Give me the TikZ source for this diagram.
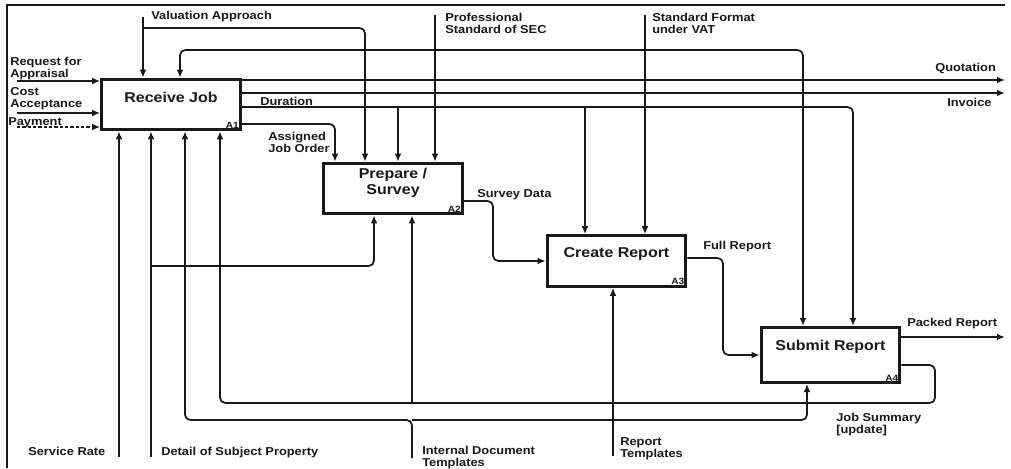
\documentclass[tikz,border=0pt]{standalone}
\usepackage{fontspec}
\setmainfont[FakeStretch=1.12]{Liberation Sans}
\usepackage{tikz}
\usetikzlibrary{arrows.meta}
\usepackage{xcolor}
\definecolor{cInk}{RGB}{25,25,25}
\definecolor{cPaper}{RGB}{255,255,255}
\tikzset{
  procbox/.style={rectangle, draw=cInk, fill=cPaper, line width=2.2pt,
                  minimum width=104pt, minimum height=38pt},
  proctitle/.style={font=\fontsize{10.7}{12}\selectfont\bfseries,
                    align=center, inner sep=0pt, text=cInk},
  procid/.style={font=\fontsize{6.8}{7}\selectfont\bfseries,
                 anchor=south east, inner sep=2pt, text=cInk},
  lbl/.style={font=\fontsize{8.6}{9}\selectfont\bfseries, align=left,
              anchor=north west, inner sep=0pt, text=cInk},
  arrow/.style={-{Latex[length=6pt,width=5pt]}, line width=1.3pt,
                draw=cInk, rounded corners=4pt},
  dasharrow/.style={arrow, dash pattern=on 2.5pt off 1.5pt},
  frameline/.style={draw=cInk, line width=1.3pt}
}

\begin{document}
\begin{tikzpicture}[x=0.75pt, y=-0.75pt]
  \useasboundingbox (0,0) rectangle (1011,468);
  \draw[frameline] (1005,5) -- (7,5) -- (7,468);

  % activities A1..A4
  \node[procbox] (a1) at (171,104.5) {};
  \node[procbox] (a2) at (393,188.5) {};
  \node[procbox] (a3) at (616.5,261) {};
  \node[procbox, minimum height=41.3pt] (a4) at (830.5,355) {};
  \node[proctitle] (a1t) at ([yshift=5.25pt]a1.center) {Receive Job};
  \node[proctitle] (a2t) at ([yshift=4.5pt]a2.center) {Prepare /\\Survey};
  \node[proctitle] (a3t) at ([yshift=5.25pt]a3.center) {Create Report};
  \node[proctitle] (a4t) at ([yshift=6pt]a4.center) {Submit Report};
  \node[procid] (a1id) at (a1.south east) {A1};
  \node[procid] (a2id) at (a2.south east) {A2};
  \node[procid] (a3id) at (a3.south east) {A3};
  \node[procid] (a4id) at (a4.south east) {A4};

  % free ends and bends
  \coordinate (req) at (17,81);
  \coordinate (cost) at (17,113);
  \coordinate (pay) at (17,127);
  \coordinate (va) at (143,17);
  \coordinate (vaJ) at (365,28);
  \coordinate (sec) at (435,15);
  \coordinate (secL) at (180,50);
  \coordinate (secR) at (803,50);
  \coordinate (vat) at (645,15);
  \coordinate (quo) at (1005,80);
  \coordinate (inv) at (1005,93);
  \coordinate (durA) at (398,107);
  \coordinate (durB) at (585,107);
  \coordinate (durC) at (853,107);
  \coordinate (ajo) at (335,124);
  \coordinate (sdA) at (493,201);
  \coordinate (frA) at (723,258);
  \coordinate (pr) at (1005,337);
  \coordinate (jsA) at (935,365);
  \coordinate (jsB) at (935,403);
  \coordinate (jsC) at (220,403);
  \coordinate (idt) at (412,458);
  \coordinate (idL) at (185,420);
  \coordinate (idR) at (807,420);
  \coordinate (srv) at (119,457);
  \coordinate (dsp) at (151,457);
  \coordinate (dspJ) at (374,266);
  \coordinate (rt) at (613,456);

  % inputs and controls
  \draw[arrow] (req) -- (req -| a1.west);
  \draw[arrow] (cost) -- (cost -| a1.west);
  \draw[dasharrow] (pay) -- (pay -| a1.west);
  \draw[arrow] (va) -- (va |- a1.north);
  \draw[arrow] (va |- vaJ) -- (vaJ) -- (vaJ |- a2.north);
  \draw[arrow] (sec) -- (sec |- a2.north);
  \draw[arrow] (sec |- secL) -- (secL) -- (secL |- a1.north);
  \draw[arrow] (sec |- secR) -- (secR) -- (secR |- a4.north);
  \draw[arrow] (vat) -- (vat |- a3.north);

  % outputs
  \draw[arrow] (a1.east |- quo) -- (quo);
  \draw[arrow] (a1.east |- inv) -- (inv);
  \draw[arrow] (a1.east |- durC) -- (durC) -- (durC |- a4.north);
  \draw[arrow] (durA) -- (durA |- a2.north);
  \draw[arrow] (durB) -- (durB |- a3.north);
  \draw[arrow] (a1.east |- ajo) -- (ajo) -- (ajo |- a2.north);
  \draw[arrow] (a2.east |- sdA) -- (sdA) -- (sdA |- a3.west) -- (a3.west);
  \draw[arrow] (a3.east |- frA) -- (frA) -- (frA |- a4.west) -- (a4.west);
  \draw[arrow] (a4.east |- pr) -- (pr);
  \draw[arrow] (a4.east |- jsA) -- (jsA) -- (jsB) -- (jsC) -- (jsC |- a1.south);
  \draw[arrow] (idt |- jsB) -- (idt |- a2.south);

  % mechanisms
  \draw[arrow] (idt) -- (idt |- idL) -- (idL) -- (idL |- a1.south);
  \draw[arrow] (idt |- idR) -- (idR) -- (idR |- a4.south);
  \draw[arrow] (srv) -- (srv |- a1.south);
  \draw[arrow] (dsp) -- (dsp |- a1.south);
  \draw[arrow] (dsp |- dspJ) -- (dspJ) -- (dspJ |- a2.south);
  \draw[arrow] (rt) -- (rt |- a3.south);

  % labels
  \node[lbl] (lReq) at (10,57) {Request for\\Appraisal};
  \node[lbl] (lCost) at (10,87) {Cost\\Acceptance};
  \node[lbl] (lPay) at (8,117) {Payment};
  \node[lbl] (lVa) at (151,11) {Valuation Approach};
  \node[lbl] (lSec) at (445,13) {Professional\\Standard of SEC};
  \node[lbl] (lVat) at (652,13) {Standard Format\\under VAT};
  \node[lbl] (lQuo) at (935,63) {Quotation};
  \node[lbl] (lInv) at (947,98) {Invoice};
  \node[lbl] (lDur) at (260,97) {Duration};
  \node[lbl] (lAjo) at (268,132) {Assigned\\Job Order};
  \node[lbl] (lSd) at (477,189) {Survey Data};
  \node[lbl] (lFr) at (703,241) {Full Report};
  \node[lbl] (lPr) at (907,318) {Packed Report};
  \node[lbl] (lJs) at (836,413) {Job Summary\\{[update]}};
  \node[lbl] (lSrv) at (28,447) {Service Rate};
  \node[lbl] (lDsp) at (161,447) {Detail of Subject Property};
  \node[lbl] (lIdt) at (422,446) {Internal Document\\Templates};
  \node[lbl] (lRt) at (620,437) {Report\\Templates};
\end{tikzpicture}
\end{document}
